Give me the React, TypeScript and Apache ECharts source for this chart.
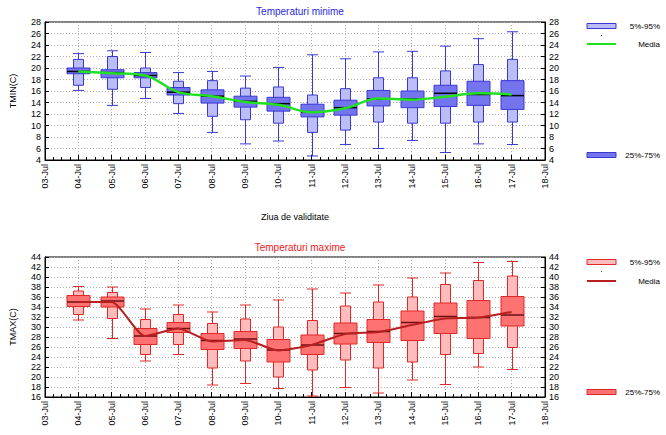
import React, { useEffect, useRef } from "react";
import * as echarts from "echarts";

const dates = ["03-Jul","04-Jul","05-Jul","06-Jul","07-Jul","08-Jul","09-Jul","10-Jul","11-Jul","12-Jul","13-Jul","14-Jul","15-Jul","16-Jul","17-Jul","18-Jul"];
const dayIdx = [1,2,3,4,5,6,7,8,9,10,11,12,13,14];

// TMIN stats
const tminMin = [16.1,13.5,14.7,12.1,8.8,6.8,7.3,4.7,6.7,6.0,7.4,5.3,6.8,6.7];
const tminP5  = [17.0,16.3,16.6,13.8,11.6,11.0,10.4,8.8,9.2,10.6,10.4,10.4,10.6,10.6];
const tminP25 = [19.0,18.3,18.3,15.3,13.9,13.2,12.5,11.5,11.8,13.4,13.1,13.3,13.5,12.8];
const tminMed = [19.4,19.2,18.7,15.8,15.1,14.2,13.8,12.4,13.1,14.6,14.6,15.6,15.4,15.2];
const tminP75 = [20.0,19.7,19.2,16.6,16.2,15.1,14.9,13.7,14.4,16.1,16.0,17.0,17.7,17.8];
const tminP95 = [21.5,22.0,20.0,17.7,17.8,16.5,16.7,15.3,16.4,18.3,18.3,19.5,20.6,21.5];
const tminMax = [22.5,23.0,22.7,19.2,19.4,18.6,20.1,22.3,21.6,22.8,22.9,23.8,25.1,26.3];
const tminMean = [19.4,19.1,18.7,15.8,15.1,14.1,13.6,12.3,13.0,14.7,14.5,15.0,15.6,15.4];

// TMAX stats
const tmaxMin = [31.4,27.7,23.2,24.5,18.4,18.7,17.7,16.2,17.9,16.8,19.4,18.5,22.0,21.5];
const tmaxP5  = [32.5,31.7,24.5,26.5,21.8,23.2,20.0,21.4,23.4,21.8,23.0,24.5,24.7,25.9];
const tmaxP25 = [34.1,34.0,26.5,28.9,25.5,25.7,23.0,24.5,26.6,26.9,27.3,28.7,27.7,30.2];
const tmaxMed = [35.0,35.2,28.2,29.7,27.3,27.6,25.4,26.4,28.7,29.1,30.9,32.1,31.9,32.4];
const tmaxP75 = [36.3,36.0,29.7,30.9,28.7,29.1,27.5,28.4,30.8,31.5,33.2,34.8,35.3,36.1];
const tmaxP95 = [37.2,36.9,31.5,32.5,30.7,31.6,30.0,31.3,34.2,35.0,36.0,38.5,39.3,40.2];
const tmaxMax = [38.1,38.0,33.6,34.4,33.0,34.4,35.4,37.6,36.8,38.4,39.8,40.8,42.9,43.1];
const tmaxMean = [35.0,35.0,28.2,29.7,27.1,27.4,25.3,26.4,28.6,29.0,30.4,31.7,31.9,33.0];

const FONT = "Liberation Sans, Arial, sans-serif";

function boxData(mn: number[], p5: number[], p25: number[], md: number[], p75: number[], p95: number[], mx: number[]) {
  return dayIdx.map((d, i) => [d, mn[i], p5[i], p25[i], md[i], p75[i], p95[i], mx[i]]);
}

function makeRender(border: string, light: string, dark: string, medColor: string) {
  return (params: any, api: any) => {
    const x = api.value(0);
    const c = (v: number) => api.coord([x, v]);
    const cx = Math.round(c(api.value(1))[0]) + 0.5;
    const yMin = c(api.value(1))[1];
    const y5 = c(api.value(2))[1];
    const y25 = c(api.value(3))[1];
    const yMed = c(api.value(4))[1];
    const y75 = c(api.value(5))[1];
    const y95 = c(api.value(6))[1];
    const yMax = c(api.value(7))[1];
    const capW = 11, outW = 10, inW = 23;
    const ls = { stroke: border, lineWidth: 1 };
    return {
      type: "group",
      children: [
        { type: "line", shape: { x1: cx, y1: yMin, x2: cx, y2: yMax }, style: ls },
        { type: "line", shape: { x1: cx - capW / 2, y1: yMin, x2: cx + capW / 2, y2: yMin }, style: ls },
        { type: "line", shape: { x1: cx - capW / 2, y1: yMax, x2: cx + capW / 2, y2: yMax }, style: ls },
        { type: "rect", shape: { x: cx - outW / 2, y: y95, width: outW, height: y5 - y95 }, style: { fill: light, stroke: border, lineWidth: 1 } },
        { type: "rect", shape: { x: cx - inW / 2, y: y75, width: inW, height: y25 - y75 }, style: { fill: dark, stroke: border, lineWidth: 1 } },
        { type: "line", shape: { x1: cx - inW / 2, y1: yMed, x2: cx + inW / 2, y2: yMed }, style: { stroke: medColor, lineWidth: 1.5 } },
      ],
    };
  };
}

const gridLine = { show: true, lineStyle: { color: "#aaaaaa", type: [1, 2] as any, width: 1 } };

function xAxisCfg(gridIndex: number, withName: boolean) {
  return {
    type: "value",
    gridIndex,
    min: 0,
    max: 15,
    interval: 1,
    name: withName ? "Ziua de validitate" : "",
    nameLocation: "middle",
    nameGap: 52,
    nameTextStyle: { fontFamily: FONT, fontSize: 9, color: "#000" },
    axisLine: { show: true, lineStyle: { color: "#000" } },
    axisTick: { show: true, inside: true, length: 5, lineStyle: { color: "#000" } },
    minorTick: { show: true, splitNumber: 4, length: 3, lineStyle: { color: "#000" } },
    axisLabel: {
      rotate: 90,
      fontFamily: FONT,
      fontSize: 9,
      color: "#000",
      margin: 4,
      formatter: (v: number) => dates[Math.round(v)] ?? "",
    },
    splitLine: gridLine,
  };
}

function yAxisCfg(gridIndex: number, min: number, max: number, position: string, name: string) {
  return {
    type: "value",
    gridIndex,
    min,
    max,
    interval: 2,
    position,
    name,
    nameLocation: "middle",
    nameGap: 28,
    nameRotate: 90,
    nameTextStyle: { fontFamily: FONT, fontSize: 9, color: "#000" },
    axisLine: { show: true, lineStyle: { color: "#000" } },
    axisTick: { show: true, inside: true, length: 4, lineStyle: { color: "#000" } },
    axisLabel: { fontFamily: FONT, fontSize: 9, color: "#000", margin: 4 },
    splitLine: position === "left" ? gridLine : { show: false },
  };
}

function legend(light: string, dark: string, border: string, lineColor: string, offs: number[]) {
  const tx = { fontFamily: FONT, fontSize: 8, fill: "#000", align: "right", verticalAlign: "middle" };
  return [
    { type: "rect", shape: { x: 587, y: offs[0] - 2.5, width: 29, height: 5 }, style: { fill: light, stroke: border, lineWidth: 1 } },
    { type: "text", x: 660, y: offs[0], style: { ...tx, text: "5%-95%" } },
    { type: "rect", shape: { x: 601, y: offs[1], width: 1, height: 1 }, style: { fill: "#555" } },
    { type: "line", shape: { x1: 587, y1: offs[2], x2: 616, y2: offs[2] }, style: { stroke: lineColor, lineWidth: 2 } },
    { type: "text", x: 660, y: offs[2], style: { ...tx, text: "Media" } },
    { type: "rect", shape: { x: 587, y: offs[3] - 2.5, width: 29, height: 5 }, style: { fill: dark, stroke: border, lineWidth: 1 } },
    { type: "text", x: 660, y: offs[3], style: { ...tx, text: "25%-75%" } },
  ];
}

export default function App() {
  const ref = useRef<HTMLDivElement>(null);
  useEffect(() => {
    document.body.style.margin = "0";
    const chart = echarts.init(ref.current!, null, { renderer: "svg" });
    const blueBorder = "#3a3ad0", blueLight = "#bcbcf6", blueDark = "#7474ee";
    const redBorder = "#e02828", redLight = "#ffbcbc", redDark = "#ff7272";
    chart.setOption({
      animation: false,
      backgroundColor: "#fff",
      title: [
        { text: "Temperaturi minime", left: 295, top: 1, textAlign: "center", textStyle: { fontFamily: FONT, fontSize: 10, fontWeight: "normal", color: "#2a2ae0" } },
        { text: "Temperaturi maxime", left: 295, top: 237, textAlign: "center", textStyle: { fontFamily: FONT, fontSize: 10, fontWeight: "normal", color: "#ee2222" } },
      ],
      grid: [
        { left: 44, top: 22, width: 501, height: 138, show: true, borderColor: "#000", borderWidth: 1, backgroundColor: "transparent" },
        { left: 44, top: 257, width: 501, height: 140, show: true, borderColor: "#000", borderWidth: 1, backgroundColor: "transparent" },
      ],
      xAxis: [xAxisCfg(0, true), xAxisCfg(1, false)],
      yAxis: [
        yAxisCfg(0, 4, 28, "left", "TMIN(C)"),
        yAxisCfg(0, 4, 28, "right", ""),
        yAxisCfg(1, 16, 44, "left", "TMAX(C)"),
        yAxisCfg(1, 16, 44, "right", ""),
      ],
      series: [
        {
          type: "custom",
          xAxisIndex: 0,
          yAxisIndex: 0,
          renderItem: makeRender(blueBorder, blueLight, blueDark, "#000"),
          encode: { x: 0, y: [1, 2, 3, 4, 5, 6, 7] },
          data: boxData(tminMin, tminP5, tminP25, tminMed, tminP75, tminP95, tminMax),
          z: 2,
        },
        {
          type: "line",
          xAxisIndex: 0,
          yAxisIndex: 0,
          smooth: 0.35,
          showSymbol: false,
          lineStyle: { color: "#22e022", width: 2.5 },
          data: dayIdx.map((d, i) => [d, tminMean[i]]),
          z: 3,
        },
        {
          type: "custom",
          xAxisIndex: 1,
          yAxisIndex: 2,
          renderItem: makeRender(redBorder, redLight, redDark, "#6a1010"),
          encode: { x: 0, y: [1, 2, 3, 4, 5, 6, 7] },
          data: boxData(tmaxMin, tmaxP5, tmaxP25, tmaxMed, tmaxP75, tmaxP95, tmaxMax),
          z: 2,
        },
        {
          type: "line",
          xAxisIndex: 1,
          yAxisIndex: 2,
          smooth: 0.2,
          showSymbol: false,
          lineStyle: { color: "#b82020", width: 2 },
          data: dayIdx.map((d, i) => [d, tmaxMean[i]]),
          z: 3,
        },
      ],
      graphic: [
        ...legend(blueLight, blueDark, blueBorder, "#22e022", [26, 35, 44, 155]),
        ...legend(redLight, redDark, redBorder, "#b82020", [262, 271, 281, 392]),
      ],
    });
    return () => chart.dispose();
  }, []);
  return <div ref={ref} style={{ width: 666, height: 435, position: "absolute", left: 0, top: 0 }} />;
}
